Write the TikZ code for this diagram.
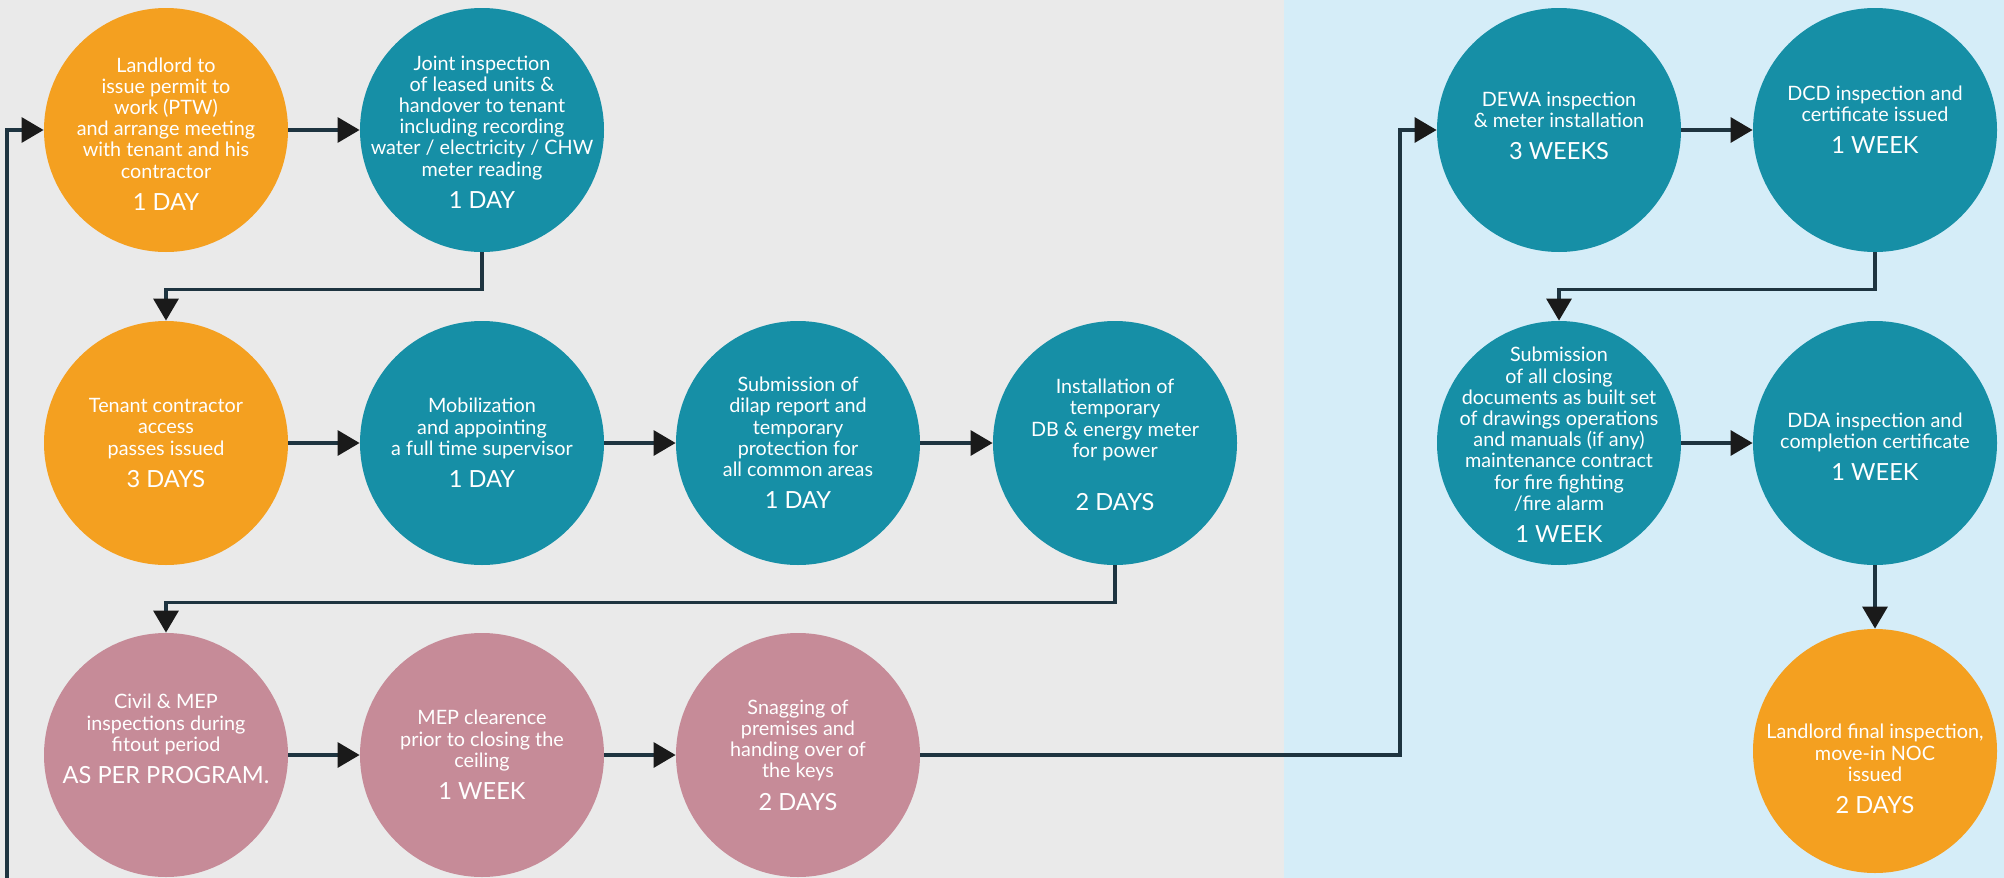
\documentclass[tikz,border=0pt]{standalone}
\usepackage{fontspec}
\setmainfont{Lato}
\usetikzlibrary{arrows.meta}
\definecolor{orng}{HTML}{F4A020}
\definecolor{teal2}{HTML}{168FA6}
\definecolor{pinkc}{HTML}{C68B98}
\definecolor{bggray}{HTML}{EAEAEA}
\definecolor{bgblue}{HTML}{D5EDF8}
\definecolor{lineclr}{HTML}{1E3440}
\definecolor{tipclr}{HTML}{1A1A1A}
\newcommand\dur[1]{\\[5.5pt]{\fontsize{11.8}{12}\selectfont #1}}
\tikzset{
  stagecirc/.style={circle, minimum size=122pt, inner sep=0pt, fill=#1, draw=none},
  stagetext/.style={align=center, text=white, font=\fontsize{9.9}{10.6}\selectfont, inner sep=0pt},
  conn/.style={draw=lineclr, line width=1.6pt, -{Triangle[length=11pt,width=12.5pt,color=tipclr]}},
}
\begin{document}
\begin{tikzpicture}[x=0.5pt,y=-0.5pt]
\useasboundingbox (0,0) rectangle (2004,878);
\fill[bggray] (0,0) rectangle (1284,878);
\fill[bgblue] (1284,0) rectangle (2004,878);
% circles
\node[stagecirc=orng]  (c1)  at (166,130) {};
\node[stagecirc=teal2] (c2)  at (482,130) {};
\node[stagecirc=orng]  (c3)  at (166,443) {};
\node[stagecirc=teal2] (c4)  at (482,443) {};
\node[stagecirc=teal2] (c5)  at (798,443) {};
\node[stagecirc=teal2] (c6)  at (1115,443) {};
\node[stagecirc=pinkc] (c7)  at (166,755) {};
\node[stagecirc=pinkc] (c8)  at (482,755) {};
\node[stagecirc=pinkc] (c9)  at (798,755) {};
\node[stagecirc=teal2] (c10) at (1559,130) {};
\node[stagecirc=teal2] (c11) at (1875,130) {};
\node[stagecirc=teal2] (c12) at (1559,443) {};
\node[stagecirc=teal2] (c13) at (1875,443) {};
\node[stagecirc=orng]  (c14) at (1875,751) {};
% texts
\node[stagetext,yshift=-2pt] (t1) at (c1) {Landlord to\\issue permit to\\work (PTW)\\and arrange meeting\\with tenant and his\\contractor\dur{1 DAY}};
\node[stagetext,yshift=-1pt] (t2) at (c2) {Joint inspection\\of leased units \&\\handover to tenant\\including recording\\water / electricity / CHW\\meter reading\dur{1 DAY}};
\node[stagetext] (t3) at (c3) {Tenant contractor\\access\\passes issued\dur{3 DAYS}};
\node[stagetext] (t4) at (c4) {Mobilization\\and appointing\\a full time supervisor\dur{1 DAY}};
\node[stagetext] (t5) at (c5) {Submission of\\dilap report and\\temporary\\protection for\\all common areas\dur{1 DAY}};
\node[stagetext,yshift=-1pt] (t6) at (c6) {Installation of\\temporary\\DB \& energy meter\\for power\\ \dur{2 DAYS}};
\node[stagetext,yshift=8pt] (t7) at (c7) {Civil \& MEP\\inspections during\\fitout period\dur{AS PER PROGRAM.}};
\node[stagetext] (t8) at (c8) {MEP clearence\\prior to closing the\\ceiling\dur{1 WEEK}};
\node[stagetext] (t9) at (c9) {Snagging of\\premises and\\handing over of\\the keys\dur{2 DAYS}};
\node[stagetext,yshift=2pt] (t10) at (c10) {DEWA inspection\\\& meter installation\dur{3 WEEKS}};
\node[stagetext,yshift=5pt] (t11) at (c11) {DCD inspection and\\certificate issued\dur{1 WEEK}};
\node[stagetext,yshift=-1pt] (t12) at (c12) {Submission\\of all closing\\documents as built set\\of drawings operations\\and manuals (if any)\\maintenance contract\\for fire fighting\\/fire alarm\dur{1 WEEK}};
\node[stagetext,yshift=-2pt] (t13) at (c13) {DDA inspection and\\completion certificate\dur{1 WEEK}};
\node[stagetext,yshift=-9pt] (t14) at (c14) {Landlord final inspection,\\move-in NOC\\issued\dur{2 DAYS}};
% connectors
\coordinate (fb) at (7,878);
\coordinate (k) at (1400,755);
\draw[conn] (fb) |- (c1);
\draw[conn] (c1) -- (c2);
\draw[conn] (c2.south) -- ++(0,37) -| (c3.north);
\draw[conn] (c3) -- (c4);
\draw[conn] (c4) -- (c5);
\draw[conn] (c5) -- (c6);
\draw[conn] (c6.south) -- ++(0,37) -| (c7.north);
\draw[conn] (c7) -- (c8);
\draw[conn] (c8) -- (c9);
\draw[conn] (c9) -- (k) |- (c10);
\draw[conn] (c10) -- (c11);
\draw[conn] (c11.south) -- ++(0,37) -| (c12.north);
\draw[conn] (c12) -- (c13);
\draw[conn] (c13) -- (c14);
\end{tikzpicture}
\end{document}
